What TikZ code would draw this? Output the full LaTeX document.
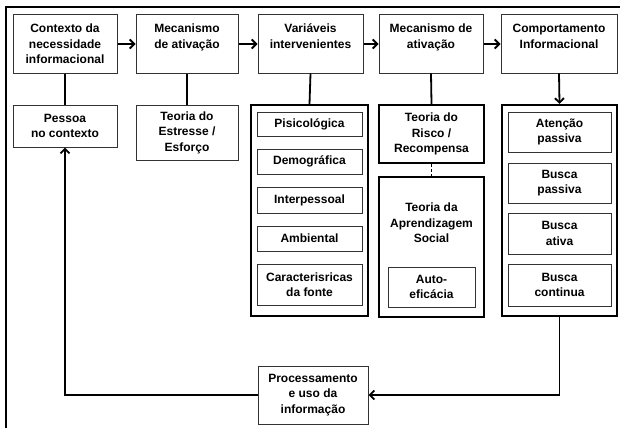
\documentclass[tikz,border=0pt]{standalone}
\usepackage{fontspec}
\setmainfont{Liberation Sans}
\usetikzlibrary{arrows.meta}
\begin{document}
\begin{tikzpicture}[x=1pt,y=-1pt,
  every node/.style={font=\bfseries\fontsize{12}{15.5}\selectfont, align=center, inner sep=0pt},
  thinbox/.style={draw=black!80, line width=1pt, fill=white},
  thickbox/.style={draw=black, line width=2.2pt},
  conn/.style={line width=1.8pt},
  arr/.style={conn, -{Straight Barb[length=4.5pt,width=9pt,line width=1.8pt]}}]
\useasboundingbox (0,0) rectangle (620,428);
\draw[line width=2pt] (6,428) -- (6,7) -- (620,7);

% top row
\node[thinbox, minimum width=104pt, minimum height=58pt] (c1) at (65,44) {Contexto da\\necessidade\\informacional};
\node[thinbox, minimum width=102pt, minimum height=58pt] (c2) at (187,44) {Mecanismo\\de ativação\\\mbox{}};
\node[thinbox, minimum width=105pt, minimum height=58pt] (c3) at (310.5,44) {Variáveis\\intervenientes\\\mbox{}};
\node[thinbox, minimum width=104pt, minimum height=58pt] (c4) at (431,44) {Mecanismo de\\ativação\\\mbox{}};
\node[thinbox, minimum width=116pt, minimum height=58pt] (c5) at (559,44) {Comportamento\\Informacional\\\mbox{}};

% second row
\node[thinbox, minimum width=104pt, minimum height=42pt] (pe) at (65,126) {Pessoa\\no contexto};
\node[thinbox, minimum width=102pt, minimum height=55pt] (es) at (187,132.5) {Teoria do\\Estresse /\\Esforço};

% variables
\node[thickbox, minimum width=117pt, minimum height=211pt] (vo) at (309.5,210.5) {};
\node[thinbox, minimum width=105pt, minimum height=24pt] (v1) at (309.5,124) {Pisicológica};
\node[thinbox, minimum width=105pt, minimum height=25pt] (v2) at (309.5,161.5) {Demográfica};
\node[thinbox, minimum width=105pt, minimum height=26pt] (v3) at (309.5,200) {Interpessoal};
\node[thinbox, minimum width=105pt, minimum height=25pt] (v4) at (309.5,238.5) {Ambiental};
\node[thinbox, minimum width=105pt, minimum height=41pt] (v5) at (309.5,284.5) {Caracterisricas\\da fonte};

% risk / learning
\node[thickbox, minimum width=105pt, minimum height=58pt] (ri) at (431.5,134) {Teoria do\\Risco /\\Recompensa};
\node[thickbox, minimum width=105pt, minimum height=140pt] (ap) at (431.5,247) {};
\node (apt) at (431.5,223) {Teoria da\\Aprendizagem\\Social};
\node[thinbox, minimum width=87pt, minimum height=40pt] (au) at (431.5,287) {Auto-\\eficácia};

% behaviour
\node[thickbox, minimum width=115pt, minimum height=211pt] (co) at (559.5,210.5) {};
\node[thinbox, minimum width=103pt, minimum height=40pt] (b1) at (559.5,132) {Atenção\\passiva};
\node[thinbox, minimum width=103pt, minimum height=40pt] (b2) at (559.5,183) {Busca\\passiva};
\node[thinbox, minimum width=103pt, minimum height=41pt] (b3) at (559.5,233.5) {Busca\\ativa};
\node[thinbox, minimum width=103pt, minimum height=42pt] (b4) at (559.5,285) {Busca\\continua};

% processing
\node[thinbox, minimum width=110pt, minimum height=58pt] (pr) at (313,395) {Processamento\\e uso da\\informação};

% connectors
\draw[arr] (c1.east) -- (c2.west);
\draw[arr] (c2.east) -- (c3.west);
\draw[arr] (c3.east) -- (c4.west);
\draw[arr] (c4.east) -- (c5.west);
\draw[conn] (c1.south) -- (pe.north);
\draw[conn] (c2.south) -- (es.north);
\draw[conn] (c3.south) -- (vo.north);
\draw[conn] (c4.south) -- (ri.north);
\draw[arr] (c5.south) -- (co.north);
\draw[conn, dash pattern=on 3pt off 2pt] (ri.south) -- (ap.north);
\draw[arr] (co.south) |- (pr.east);
\draw[arr] (pr.west) -| (pe.south);
\end{tikzpicture}
\end{document}
